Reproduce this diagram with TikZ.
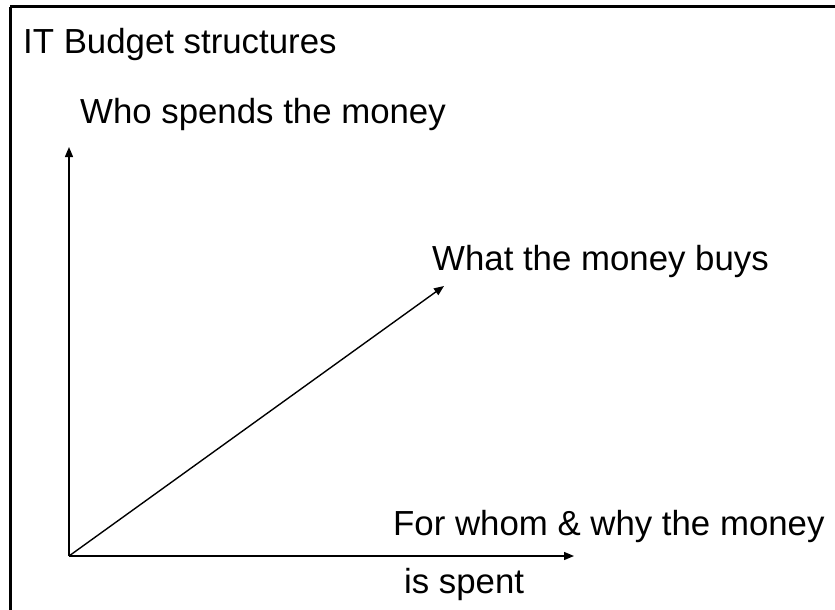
\documentclass[tikz,border=0pt]{standalone}
\usepackage{fontspec}
\setmainfont{Liberation Sans}
\usepackage{tikz}
\usetikzlibrary{arrows.meta,positioning}

\begin{document}
\begin{tikzpicture}[
    x=1pt, y=-1pt,
    every node/.style={font=\fontsize{34.8}{41}\selectfont, inner sep=0pt},
    label/.style={anchor=base west},
    axis/.style={draw, line width=1.4pt, -{Triangle[length=10pt,width=8pt]}},
    frame/.style={draw, line width=3pt}
    ]
    \useasboundingbox (0,0) rectangle (835,610);
    % Frame
    \draw[frame] (10,7) -- (845,7);
    \draw[frame] (10,7) -- (10,620);
    % Title
    \node[label] (title) at (23,53) {IT Budget structures};
    % Axes
    \coordinate (o) at (69,556);
    \coordinate (up) at (69,147);
    \coordinate (right) at (574,556);
    \coordinate (diag) at (444,286);
    \draw[axis] (o) -- (up);
    \draw[axis] (o) -- (right);
    \draw[axis] (o) -- (diag);
    % Axis labels
    \node[label] (who) at (80,123) {Who spends the money};
    \node[label] (what) at (432,270) {What the money buys};
    \node[label] (whom) at (393,535) {For whom \& why the money};
    \node[label] (spent) at (404,593) {is spent};
\end{tikzpicture}
\end{document}
